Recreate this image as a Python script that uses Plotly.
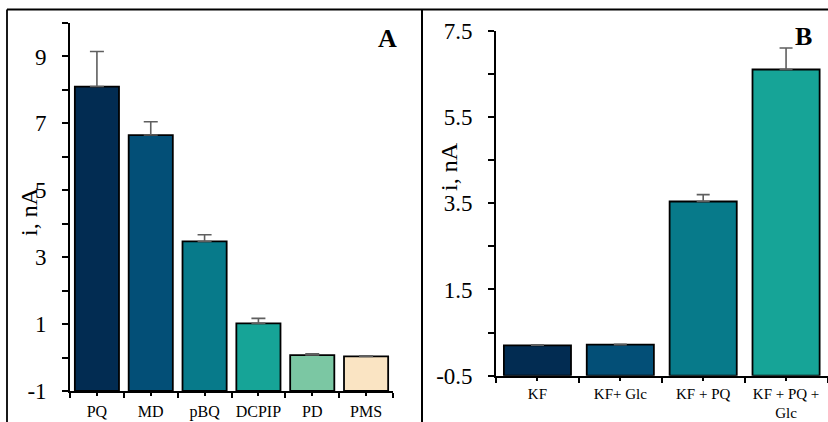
import plotly.graph_objects as go

W, H = 828, 422

# Panel A data
cats_a = ["PQ", "MD", "pBQ", "DCPIP", "PD", "PMS"]
vals_a = [8.1, 6.65, 3.47, 1.02, 0.075, 0.035]
err_a = [1.05, 0.40, 0.20, 0.15, 0.04, 0.02]
colors_a = ["#022c52", "#034f77", "#077a8a", "#16a497", "#7bc7a3", "#fae4c3"]
yticks_a = [-1, 1, 3, 5, 7, 9]
yticklabels_a = ["-1", "1", "3", "5", "7", "9"]
yminor_a = [0, 2, 4, 6, 8, 10]
ymin_a, ymax_a = -1, 10

# Panel B data
cats_b = ["KF", "KF+ Glc", "KF + PQ", "KF + PQ +<br>Glc"]
vals_b = [0.205, 0.22, 3.54, 6.6]
err_b = [0.01, 0.01, 0.16, 0.5]
colors_b = ["#022c52", "#034f77", "#077a8a", "#16a497"]
yticks_b = [-0.5, 1.5, 3.5, 5.5, 7.5]
yticklabels_b = ["-0.5", "1.5", "3.5", "5.5", "7.5"]
yminor_b = [0.5, 2.5, 4.5, 6.5]
ymin_b, ymax_b = -0.5, 7.5

FONT = "'Liberation Serif', 'Times New Roman', serif"

def px_x(p):
    return p / W

def px_y(p):
    return (H - p) / H

fig = go.Figure()

fig.add_trace(go.Bar(
    x=list(range(len(cats_a))),
    y=[v - ymin_a for v in vals_a],
    base=ymin_a,
    marker=dict(color=colors_a, line=dict(color="black", width=1.8)),
    error_y=dict(type="data", symmetric=False, array=err_a,
                 arrayminus=[0] * len(err_a), color="#5f5f5f",
                 thickness=1.6, width=7),
    width=0.82,
    xaxis="x", yaxis="y", showlegend=False,
))

fig.add_trace(go.Bar(
    x=list(range(len(cats_b))),
    y=[v - ymin_b for v in vals_b],
    base=ymin_b,
    marker=dict(color=colors_b, line=dict(color="black", width=1.8)),
    error_y=dict(type="data", symmetric=False, array=err_b,
                 arrayminus=[0] * len(err_b), color="#5f5f5f",
                 thickness=1.6, width=6.5),
    width=0.81,
    xaxis="x2", yaxis="y2", showlegend=False,
))

xcommon = dict(showline=True, linecolor="black", linewidth=1.6,
               ticks="outside", ticklen=3, tickwidth=1.5, tickcolor="black",
               showgrid=False, zeroline=False, automargin=False)
ycommon = dict(showline=True, linecolor="black", linewidth=1.6,
               ticks="outside", ticklen=6, tickwidth=1.5, tickcolor="black",
               showgrid=False, zeroline=False, automargin=False,
               tickfont=dict(family=FONT, size=23, color="black"))

fig.update_layout(
    width=W, height=H,
    margin=dict(l=0, r=0, t=0, b=0, pad=0, autoexpand=False),
    paper_bgcolor="white", plot_bgcolor="white",
    bargap=0.18,
    xaxis=dict(**xcommon, domain=[px_x(70), px_x(393)], anchor="y",
               range=[-0.5, len(cats_a) - 0.5],
               tickmode="array", tickvals=list(range(len(cats_a))), ticktext=cats_a,
               tickfont=dict(family=FONT, size=16, color="black"),
               ticklabelstandoff=2,
               minor=dict(tickmode="array",
                          tickvals=[i - 0.5 for i in range(len(cats_a) + 1)],
                          ticks="outside", ticklen=5, tickwidth=1.5, tickcolor="black")),
    yaxis=dict(**ycommon, domain=[px_y(391), px_y(23)], anchor="x",
               range=[ymin_a, ymax_a],
               tickmode="array", tickvals=yticks_a, ticktext=yticklabels_a,
               ticklabelstandoff=11,
               minor=dict(tickmode="array", tickvals=yminor_a,
                          ticks="outside", ticklen=6, tickwidth=1.5, tickcolor="black")),
    xaxis2=dict(**xcommon, domain=[px_x(496), px_x(827.5)], anchor="y2",
                range=[-0.5, len(cats_b) - 0.5],
                tickmode="array", tickvals=list(range(len(cats_b))), ticktext=cats_b,
                tickfont=dict(family=FONT, size=15, color="black"),
                ticklabelstandoff=0,
                minor=dict(tickmode="array",
                           tickvals=[i - 0.5 for i in range(len(cats_b) + 1)],
                           ticks="outside", ticklen=5, tickwidth=1.5, tickcolor="black")),
    yaxis2=dict(**ycommon, domain=[px_y(375.7), px_y(30.7)], anchor="x2",
                range=[ymin_b, ymax_b],
                tickmode="array", tickvals=yticks_b, ticktext=yticklabels_b,
                ticklabelstandoff=11,
                minor=dict(tickmode="array", tickvals=yminor_b,
                           ticks="outside", ticklen=6, tickwidth=1.5, tickcolor="black")),
)

# frame lines
fig.add_shape(type="line", xref="paper", yref="paper",
              x0=px_x(7), x1=1, y0=px_y(9.5), y1=px_y(9.5),
              line=dict(color="black", width=1.8))
fig.add_shape(type="line", xref="paper", yref="paper",
              x0=px_x(7), x1=px_x(7), y0=px_y(9.5), y1=0,
              line=dict(color="black", width=1.8))
fig.add_shape(type="line", xref="paper", yref="paper",
              x0=px_x(422), x1=px_x(422), y0=px_y(9.5), y1=0,
              line=dict(color="black", width=2))

# axis titles
fig.add_annotation(text="i, nA", textangle=-90, xref="paper", yref="paper",
                   x=px_x(29), y=px_y(212), showarrow=False,
                   xanchor="center", yanchor="middle",
                   font=dict(family=FONT, size=24, color="black"))
fig.add_annotation(text="i, nA", textangle=-90, xref="paper", yref="paper",
                   x=px_x(449), y=px_y(167), showarrow=False,
                   xanchor="center", yanchor="middle",
                   font=dict(family=FONT, size=24, color="black"))

# panel letters
fig.add_annotation(text="<b>A</b>", xref="paper", yref="paper",
                   x=px_x(387), y=px_y(38), showarrow=False,
                   xanchor="center", yanchor="middle",
                   font=dict(family=FONT, size=26, color="black"))
fig.add_annotation(text="<b>B</b>", xref="paper", yref="paper",
                   x=px_x(803), y=px_y(37), showarrow=False,
                   xanchor="center", yanchor="middle",
                   font=dict(family=FONT, size=26, color="black"))

fig.write_html("out.html")
